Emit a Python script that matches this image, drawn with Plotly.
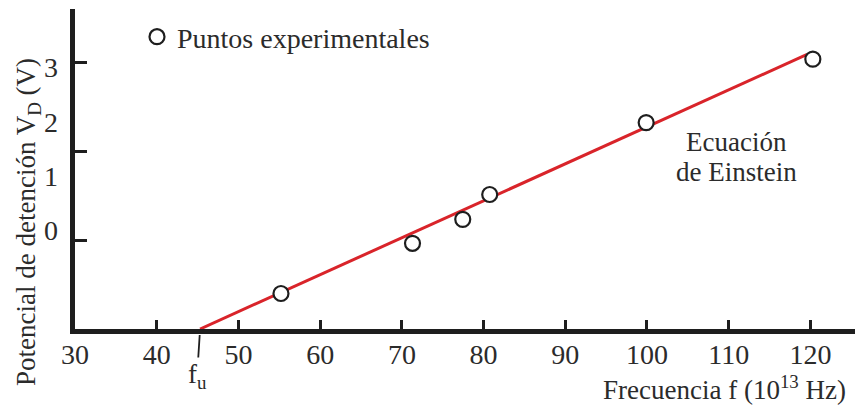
import plotly.graph_objects as go

# Experimental stopping-potential measurements
freq = [55.2, 71.3, 77.45, 80.75, 99.9, 120.3]        # 10^13 Hz
v_stop = [0.40, 0.965, 1.235, 1.515, 2.325, 3.04]     # V

# Einstein relation line, starting at the threshold frequency f_u
line_f = [45.3, 119.6]
line_v = [0.0, 3.093]

# Axis ticks and labels
x_ticks = [30, 40, 50, 60, 70, 80, 90, 100, 110, 120]
y_tick_marks = [1, 2, 3]
y_label_pos = [2.955, 2.335, 1.716, 1.115]
y_label_text = ["3", "2", "1", "0"]

FONT = "Liberation Serif"
INK = "#1e1e1e"
TXT = "#2b2b2b"

W, H = 855, 405
L, R, T, B = 75, 0, 9, 76
pw, ph = W - L - R, H - T - B


def px_x(px):
    """horizontal pixel -> paper fraction"""
    return (px - L) / pw


def px_y(py):
    """vertical pixel -> paper fraction"""
    return (H - B - py) / ph


fig = go.Figure()

fig.add_trace(go.Scatter(
    x=line_f, y=line_v, mode="lines",
    line=dict(color="#d9242a", width=3),
    showlegend=False, hoverinfo="skip",
))

fig.add_trace(go.Scatter(
    x=freq, y=v_stop, mode="markers",
    name="Puntos experimentales",
    marker=dict(symbol="circle", size=15, color="white",
                line=dict(color=INK, width=2.2)),
    cliponaxis=False,
))

# empty trace so the label axis gets drawn
fig.add_trace(go.Scatter(x=[None], y=[None], yaxis="y2", showlegend=False,
                         hoverinfo="skip"))

# threshold frequency marker
fig.add_annotation(
    x=line_f[0], y=line_v[0], xref="x", yref="y",
    text="f<sub>u</sub>", showarrow=True, arrowhead=0, arrowwidth=1.8,
    arrowcolor=INK, ax=-3, ay=47, standoff=6,
    font=dict(family=FONT, size=27, color=TXT),
)

fig.add_annotation(x=px_x(736.5), y=px_y(141.5), xref="paper", yref="paper",
                   xanchor="center", yanchor="middle", showarrow=False,
                   text="Ecuación", font=dict(family=FONT, size=27, color=TXT))
fig.add_annotation(x=px_x(736.5), y=px_y(171.5), xref="paper", yref="paper",
                   xanchor="center", yanchor="middle", showarrow=False,
                   text="de Einstein", font=dict(family=FONT, size=27, color=TXT))

# axis titles
fig.add_annotation(x=px_x(848), y=px_y(388), xref="paper", yref="paper",
                   xanchor="right", yanchor="middle", showarrow=False,
                   text="Frecuencia f (10<sup>13</sup> Hz)",
                   font=dict(family=FONT, size=27, color=TXT))
fig.add_annotation(x=px_x(28), y=px_y(222), xref="paper", yref="paper",
                   xanchor="center", yanchor="middle", showarrow=False,
                   textangle=-90,
                   text="Potencial de detención V<sub>D</sub> (V)",
                   font=dict(family=FONT, size=27, color=TXT))

x0 = 29.99
x1 = x0 + pw / 8.17
y0 = 0.0
y1 = 3.605

fig.update_layout(
    width=W, height=H,
    margin=dict(l=L, r=R, t=T, b=B),
    paper_bgcolor="white", plot_bgcolor="white",
    font=dict(family=FONT, size=27, color=TXT),
    showlegend=True,
    legend=dict(x=px_x(137), y=px_y(12), xanchor="left", yanchor="top",
                bgcolor="rgba(0,0,0,0)",
                font=dict(family=FONT, size=28, color=TXT),
                itemsizing="trace", borderwidth=0),
    xaxis=dict(
        range=[x0, x1], tickvals=x_ticks,
        ticks="inside", ticklen=9, tickwidth=2.5, tickcolor=INK,
        showline=True, linewidth=5, linecolor=INK,
        showgrid=False, zeroline=False,
        tickfont=dict(family=FONT, size=28, color=TXT),
        ticklabelstandoff=-4,
    ),
    yaxis=dict(
        range=[y0, y1], tickvals=y_tick_marks, showticklabels=False,
        ticks="inside", ticklen=12, tickwidth=2.5, tickcolor=INK,
        showline=True, linewidth=5, linecolor=INK,
        showgrid=False, zeroline=False,
    ),
    yaxis2=dict(
        range=[y0, y1], overlaying="y", side="left",
        tickvals=y_label_pos, ticktext=y_label_text, ticks="",
        showline=False, showgrid=False, zeroline=False,
        tickfont=dict(family=FONT, size=28, color=TXT),
        ticklabelstandoff=16,
    ),
)

fig.write_html("out.html")
